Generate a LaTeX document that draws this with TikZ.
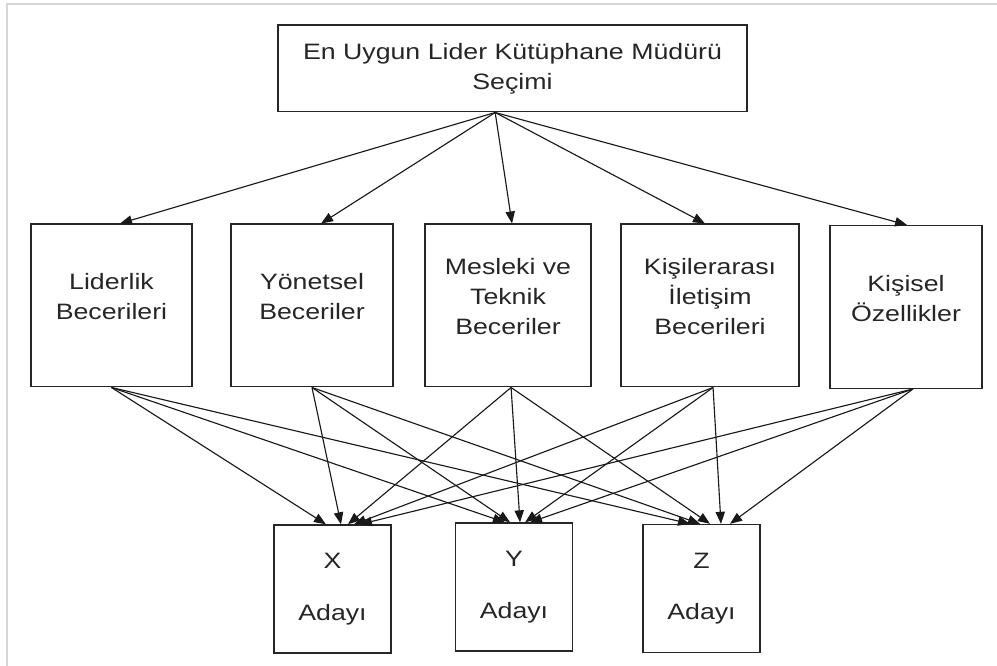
\documentclass[tikz,border=0pt]{standalone}
\usepackage{fontspec}
\setmainfont{Liberation Sans}
\usetikzlibrary{arrows.meta}
\definecolor{frame_gray}{HTML}{D6D6D6}
\tikzset{
  kutu/.style={draw=black!85, line width=1pt, xscale=1.2, align=center, inner sep=0pt,
    font=\fontsize{16.7}{22.5}\selectfont, text=black!85},
  kriter/.style={kutu, minimum height=122pt, text depth=13pt},
  aday/.style={kutu, minimum width=73pt, minimum height=96pt},
  ok/.style={-{Triangle[length=9pt,width=7pt]}, line width=0.85pt, draw=black!90}
}

\begin{document}
\begin{tikzpicture}[x=0.75pt,y=-0.75pt]
        \useasboundingbox (0,0) rectangle (997,666);
        % Cadre
        \draw[frame_gray, line width=1pt] (7,666) -- (7,4) -- (997,4);
        % Amac
        \node[kutu, minimum width=293pt, minimum height=65pt] (secim) at (512.5,68.5) {En Uygun Lider Kütüphane Müdürü\\Seçimi};
        % Kriterler
        \node[kriter, minimum width=100.6pt] (liderlik) at (111.5,305.5) {Liderlik\\Becerileri};
        \node[kriter, minimum width=101.3pt] (yonetsel) at (312,305.5) {Yönetsel\\Beceriler};
        \node[kriter, minimum width=103.8pt] (mesleki) at (508,305.5) {Mesleki ve\\Teknik\\Beceriler};
        \node[kriter, minimum width=111.3pt] (iletisim) at (710,305.5) {Kişilerarası\\İletişim\\Becerileri};
        \node[kriter, minimum width=95pt] (kisisel) at (906,307) {Kişisel\\Özellikler};
        % Adaylar
        \node[aday] (adayx) at (332.5,589) {X\\[16pt]Adayı};
        \node[aday] (adayy) at (514,587) {Y\\[16pt]Adayı};
        \node[aday] (adayz) at (701.5,588.5) {Z\\[16pt]Adayı};
        % Amac -> kriterler
        \coordinate (kaynak) at ([xshift=-13pt]secim.south);
        \draw[ok] (kaynak) -- ([xshift=6.4pt]liderlik.north);
        \draw[ok] (kaynak) -- ([xshift=6.8pt]yonetsel.north);
        \draw[ok] (kaynak) -- ([xshift=3pt]mesleki.north);
        \draw[ok] (kaynak) -- ([xshift=-3.8pt]iletisim.north);
        \draw[ok] (kaynak) -- ([xshift=0.8pt]kisisel.north);
        % Kriterler -> X
        \draw[ok] (liderlik.south) -- ([xshift=-4.9pt]adayx.north);
        \draw[ok] (yonetsel.south) -- ([xshift=6.4pt]adayx.north);
        \draw[ok] ([xshift=2.3pt]mesleki.south) -- ([xshift=11.6pt]adayx.north);
        \draw[ok] ([xshift=2.3pt]iletisim.south) -- ([xshift=16.1pt]adayx.north);
        \draw[ok] ([xshift=5.2pt]kisisel.south) -- ([xshift=20.6pt]adayx.north);
        % Kriterler -> Y
        \draw[ok] (liderlik.south) -- ([xshift=-6.8pt]adayy.north);
        \draw[ok] (yonetsel.south) -- ([xshift=-3pt]adayy.north);
        \draw[ok] ([xshift=2.3pt]mesleki.south) -- ([xshift=4.5pt]adayy.north);
        \draw[ok] ([xshift=2.3pt]iletisim.south) -- ([xshift=8.3pt]adayy.north);
        \draw[ok] ([xshift=5.2pt]kisisel.south) -- ([xshift=12pt]adayy.north);
        % Kriterler -> Z
        \draw[ok] (liderlik.south) -- ([xshift=-8.6pt]adayz.north);
        \draw[ok] (yonetsel.south) -- ([xshift=-1.1pt]adayz.north);
        \draw[ok] ([xshift=2.3pt]mesleki.south) -- ([xshift=6.4pt]adayz.north);
        \draw[ok] ([xshift=2.3pt]iletisim.south) -- ([xshift=14.6pt]adayz.north);
        \draw[ok] ([xshift=5.2pt]kisisel.south) -- ([xshift=21.4pt]adayz.north);
\end{tikzpicture}
\end{document}
